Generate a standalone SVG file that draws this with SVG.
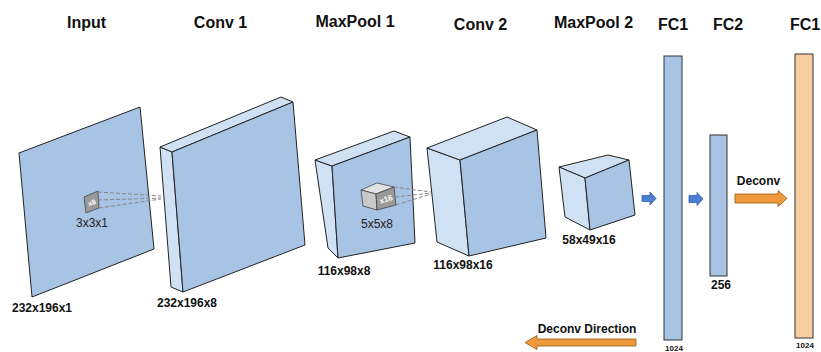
<svg xmlns="http://www.w3.org/2000/svg" width="821" height="352" viewBox="0 0 821 352">
<defs>
<style>
.t{font-family:"Liberation Sans",Arial,sans-serif;font-weight:bold;font-size:16px;fill:#111;text-anchor:middle}
.d{font-family:"Liberation Sans",Arial,sans-serif;font-weight:bold;font-size:12px;fill:#111;text-anchor:middle}
.s{font-family:"Liberation Sans",Arial,sans-serif;font-size:12px;fill:#222;text-anchor:middle}
.n{font-family:"Liberation Sans",Arial,sans-serif;font-weight:bold;font-size:8px;fill:#111;text-anchor:middle}
.fr{fill:#a8c4e5;stroke:#222;stroke-width:1;stroke-linejoin:round}
.sd{fill:#d0e1f3;stroke:#222;stroke-width:1;stroke-linejoin:round}
.dash{stroke:#888;stroke-width:1;stroke-dasharray:4 2;fill:none}
.ba{fill:#4a7fd4;stroke:#2f5fa8;stroke-width:0.8}
.oa{fill:#ee9a3c;stroke:#9a5a12;stroke-width:0.8}
</style>
</defs>
<rect width="821" height="352" fill="#fff"/>

<g id="titles">
<text class="t" x="86.5" y="28">Input</text>
<text class="t" x="220.5" y="28">Conv 1</text>
<text class="t" x="355" y="27">MaxPool 1</text>
<text class="t" x="480.5" y="30">Conv 2</text>
<text class="t" x="593.5" y="28">MaxPool 2</text>
<text class="t" x="673" y="30">FC1</text>
<text class="t" x="728" y="30">FC2</text>
<text class="t" x="805" y="30">FC1</text>
</g>

<g id="input">
<polygon class="fr" points="19,153 140,107 154,249 32,297"/>
<polygon points="84,197 98,191 99,208 86,213" fill="#9a9a9a" stroke="#444" stroke-width="0.8"/>
<text x="92" y="205" transform="rotate(-20 92 203)" font-family="Liberation Sans,Arial,sans-serif" font-size="7" font-weight="bold" fill="#fff" text-anchor="middle">x8</text>
<text class="s" x="92" y="227">3x3x1</text>
<text class="d" x="42" y="312">232x196x1</text>
</g>

<g id="conv1">
<polygon class="sd" points="160,147 172,152 183,292 171,287"/>
<polygon class="sd" points="160,147 281,97 293,102 172,152"/>
<polygon class="fr" points="172,152 293,102 305,245 183,292"/>
<text class="d" x="187" y="307">232x196x8</text>
</g>

<g id="maxpool1">
<polygon class="sd" points="315,160 332,166 338,258 328,248"/>
<polygon class="sd" points="315,160 394,131 410,137 332,166"/>
<polygon class="fr" points="332,166 410,137 415,243 338,258"/>
<polygon points="361,190 377,183 394,187 376,194" fill="#e2e2e2" stroke="#444" stroke-width="0.8"/>
<polygon points="361,190 376,194 377,210 363,206" fill="#c9c9c9" stroke="#444" stroke-width="0.8"/>
<polygon points="376,194 394,187 396,205 377,210" fill="#9a9a9a" stroke="#444" stroke-width="0.8"/>
<text x="386" y="202" transform="rotate(-18 386 199)" font-family="Liberation Sans,Arial,sans-serif" font-size="8" font-weight="bold" fill="#fff" text-anchor="middle">x16</text>
<text class="s" x="377" y="228">5x5x8</text>
<text class="d" x="344" y="275">116x98x8</text>
</g>

<g id="conv2">
<polygon class="sd" points="427,148 460,160 469,256 437,242"/>
<polygon class="sd" points="427,148 507,117 537,130 460,160"/>
<polygon class="fr" points="460,160 537,130 546,238 469,256"/>
<text class="d" x="463" y="269">116x98x16</text>
</g>

<g id="maxpool2">
<polygon class="sd" points="559,167 608,155 629,160 585,178" transform="translate(0,0)"/>
<polygon class="sd" points="559,167 585,178 590,230 565,217"/>
<polygon class="fr" points="585,178 629,160 635,215 590,230"/>
<text class="d" x="589" y="244">58x49x16</text>
</g>

<g id="fc1">
<rect x="664" y="56" width="18" height="284" fill="#a8c4e5" stroke="#333" stroke-width="1"/>
<text class="n" x="674" y="351">1024</text>
</g>

<g id="fc2">
<rect x="710" y="135" width="17" height="141" fill="#a8c4e5" stroke="#333" stroke-width="1"/>
<text class="d" x="721" y="289">256</text>
</g>

<g id="fc1out">
<rect x="795" y="54" width="18" height="284" fill="#f7cfa3" stroke="#333" stroke-width="1"/>
<text class="n" x="805" y="348">1024</text>
</g>

<g id="connectors">
<line class="dash" x1="98" y1="192" x2="161" y2="196"/>
<line class="dash" x1="98" y1="200" x2="161" y2="198"/>
<line class="dash" x1="99" y1="208" x2="161" y2="199"/>
<line class="dash" x1="394" y1="187" x2="431" y2="192"/>
<line class="dash" x1="395" y1="197" x2="431" y2="193"/>
<line class="dash" x1="396" y1="205" x2="431" y2="194"/>
<polygon class="ba" points="642,195.5 650,195.5 650,192 656,198.5 650,205 650,201.5 642,201.5"/>
<polygon class="ba" points="689,195.5 697,195.5 697,192.5 703,199 697,205.5 697,202.5 689,202.5"/>
<polygon class="oa" points="735,194 778,194 778,190.5 787,198.5 778,206.5 778,203 735,203"/>
<text class="d" x="758.5" y="185">Deconv</text>
<polygon class="oa" points="636,339 537,339 537,335.5 525,342.5 537,349.5 537,346 636,346"/>
<text class="d" x="587" y="333">Deconv Direction</text>
</g>
</svg>
